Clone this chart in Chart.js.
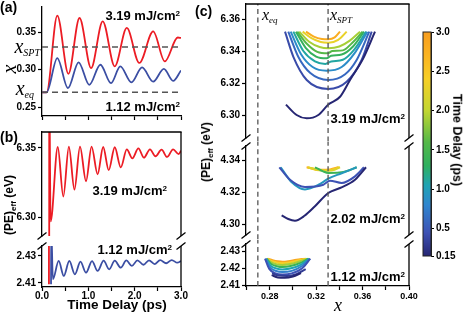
<!DOCTYPE html>
<html><head><meta charset="utf-8">
<script src="https://cdn.jsdelivr.net/npm/chart.js@4.4.1/dist/chart.umd.min.js"></script>
<style>
html,body{margin:0;padding:0;background:#fff;}
#wrap{position:relative;width:467px;height:312px;overflow:hidden;background:#fff;}
#wrap canvas{position:absolute;}
.lbl{position:absolute;white-space:nowrap;line-height:1;font-family:"Liberation Sans",Arial,sans-serif;font-weight:bold;color:#000;}
.sup{font-size:0.62em;position:relative;top:-0.5em;}
</style></head>
<body><div id="wrap"></div>
<script>
// ---------------- DATA ----------------
// reference positions
const xEq = 0.2698;
const xSPT = 0.3303;

// panel (a): x(t)
const aRedT  = [0, 0.10, 0.33, 0.57, 0.81, 1.06, 1.31, 1.57, 1.83, 2.10, 2.40, 2.65, 2.93, 3.0];
const aRedX  = [0.2698, 0.2698, 0.3722, 0.2945, 0.3691, 0.3022, 0.3647, 0.3045, 0.3558, 0.3090, 0.3513, 0.3110, 0.3430, 0.3424];
const aBlueT = [0, 0.10, 0.33, 0.56, 0.79, 1.02, 1.26, 1.49, 1.69, 1.93, 2.16, 2.40, 2.63, 2.83, 3.0];
const aBlueX = [0.2698, 0.2698, 0.3155, 0.2753, 0.3098, 0.2798, 0.3066, 0.2820, 0.3044, 0.2830, 0.3030, 0.2840, 0.3010, 0.2850, 0.2990];

// panel (b): (PE)eff(t)
const bRedT  = [0.150, 0.156, 0.186, 0.34, 0.46, 0.58, 0.70, 0.82, 0.95, 1.07, 1.20, 1.32, 1.44, 1.57, 1.70, 1.83, 1.95, 2.08, 2.20, 2.33, 2.45, 2.58, 2.70, 2.83, 2.95, 3.0];
const bRedPE = [2.409, 6.40, 6.297, 6.3507, 6.315, 6.351, 6.320, 6.351, 6.326, 6.351, 6.331, 6.3507, 6.334, 6.3505, 6.336, 6.349, 6.3425, 6.3497, 6.343, 6.349, 6.344, 6.3488, 6.3435, 6.349, 6.3455, 6.348];
const bBlueT  = [0.195, 0.200, 0.235, 0.36, 0.47, 0.59, 0.71, 0.83, 0.95, 1.08, 1.20, 1.33, 1.45, 1.57, 1.70, 1.82, 1.94, 2.06, 2.19, 2.31, 2.43, 2.55, 2.68, 2.80, 2.92, 3.0];
const bBluePE = [2.409, 2.45, 2.4128, 2.4263, 2.4152, 2.4263, 2.4164, 2.4258, 2.4176, 2.4262, 2.4189, 2.4265, 2.4201, 2.4265, 2.4213, 2.4267, 2.4226, 2.4268, 2.4235, 2.4268, 2.4240, 2.4269, 2.4246, 2.4270, 2.4250, 2.4262];

// panel (c): (PE)eff vs x for several time delays
const c319T = [0.15, 0.4, 0.6, 0.85, 1.1, 1.35, 1.6, 1.9, 2.3, 2.8];
const c319X = [
 [0.2940,0.3032,0.3119,0.3219,0.3305,0.3406,0.3492,0.3606,0.3707],
 [0.2932,0.3004,0.3119,0.3305,0.3463,0.3592,0.3679],
 [0.2960,0.3046,0.3150,0.3305,0.3450,0.3549,0.3658],
 [0.2981,0.3070,0.3170,0.3290,0.3420,0.3530,0.3641],
 [0.3004,0.3090,0.3190,0.3280,0.3330,0.3430,0.3530,0.3630],
 [0.3026,0.3110,0.3200,0.3290,0.3330,0.3420,0.3520,0.3612],
 [0.3038,0.3120,0.3210,0.3300,0.3340,0.3430,0.3510,0.3600],
 [0.3055,0.3140,0.3230,0.3306,0.3400,0.3490,0.3578],
 [0.3084,0.3160,0.3240,0.3306,0.3390,0.3463],
 [0.3113,0.3180,0.3250,0.3306,0.3360,0.3406]
];
const c319PE = [
 [6.3065,6.3000,6.2979,6.3000,6.3065,6.3114,6.3219,6.3354,6.3521],
 [6.3521,6.3364,6.3219,6.3163,6.3208,6.3344,6.3521],
 [6.3521,6.3364,6.3262,6.3219,6.3255,6.3344,6.3521],
 [6.3521,6.3380,6.3300,6.3277,6.3300,6.3385,6.3521],
 [6.3521,6.3400,6.3335,6.3319,6.3335,6.3345,6.3410,6.3521],
 [6.3521,6.3420,6.3365,6.3354,6.3370,6.3378,6.3430,6.3521],
 [6.3521,6.3445,6.3395,6.3386,6.3400,6.3404,6.3450,6.3521],
 [6.3521,6.3458,6.3425,6.3417,6.3428,6.3465,6.3521],
 [6.3521,6.3480,6.3456,6.3452,6.3470,6.3521],
 [6.3521,6.3490,6.3475,6.3473,6.3485,6.3521]
];
const c202T = [0.15, 0.45, 0.95, 1.4, 2.2, 2.5, 2.8];
const c202X = [
 [0.2903,0.2960,0.3018,0.3100,0.3190,0.3305,0.3406,0.3535,0.3630],
 [0.2883,0.2975,0.3104,0.3262,0.3319,0.3420,0.3535,0.3612],
 [0.2895,0.2990,0.3104,0.3230,0.3305,0.3420,0.3549],
 [0.3190,0.3260,0.3305,0.3400,0.3480,0.3549],
 [0.3132,0.3220,0.3305,0.3360,0.3406],
 [0.3125,0.3230,0.3310,0.3400],
 [0.3118,0.3233,0.3320,0.3391]
];
const c202PE = [
 [4.3058,4.3035,4.3025,4.3055,4.3114,4.3196,4.3227,4.3278,4.3355],
 [4.3355,4.3278,4.3233,4.3247,4.3272,4.3258,4.3299,4.3355],
 [4.3355,4.3262,4.3218,4.3250,4.3285,4.3318,4.3355],
 [4.3355,4.3330,4.3320,4.3322,4.3335,4.3355],
 [4.3355,4.3338,4.3334,4.3340,4.3355],
 [4.3355,4.3336,4.3337,4.3355],
 [4.3355,4.3340,4.3342,4.3355]
];
const c112T = [0.15, 0.3, 0.45, 0.75, 1.05, 1.4, 1.9, 2.4, 2.9];
const c112X = [
 [0.2817,0.2870,0.2930,0.3000,0.3070],
 [0.2820,0.2880,0.2950,0.3030,0.3110],
 [0.2760,0.2795,0.2850,0.2910,0.2990,0.3080,0.3150],
 [0.2765,0.2800,0.2855,0.2910,0.2990,0.3075,0.3145],
 [0.2770,0.2805,0.2860,0.2910,0.2985,0.3070,0.3140],
 [0.2772,0.2810,0.2862,0.2910,0.2980,0.3065,0.3135],
 [0.2775,0.2815,0.2865,0.2910,0.2975,0.3055,0.3125],
 [0.2778,0.2820,0.2868,0.2910,0.2970,0.3045,0.3115],
 [0.2785,0.2825,0.2870,0.2910,0.2960,0.3030,0.3100]
];
const c112PE = [
 [2.4160,2.4146,2.4144,2.4152,2.4172],
 [2.4170,2.4157,2.4155,2.4165,2.4195],
 [2.42565,2.4198,2.4170,2.4163,2.4170,2.4200,2.42565],
 [2.42565,2.4208,2.4184,2.4178,2.4185,2.4212,2.42565],
 [2.42565,2.4217,2.4198,2.4193,2.4200,2.4222,2.42565],
 [2.42565,2.4227,2.4212,2.4207,2.4213,2.4232,2.42565],
 [2.42565,2.4235,2.4223,2.4220,2.4225,2.4240,2.42565],
 [2.42565,2.4242,2.4233,2.4230,2.4234,2.4246,2.42565],
 [2.42565,2.4248,2.4241,2.4238,2.4241,2.4250,2.42565]
];

// tick values
const aXTicks = [0, 0.5, 1, 1.5, 2, 2.5, 3];
const aYTicks = [0.25, 0.30, 0.35];
const bYTicksTop = [6.30, 6.35];
const bYTicksBot = [2.41, 2.43];
const cXTicks = [0.26, 0.28, 0.30, 0.32, 0.34, 0.36, 0.38, 0.40];
const cXLabeled = [0.28, 0.32, 0.36, 0.40];
const cYTicksTop = [6.30, 6.32, 6.34, 6.36];
const cYTicksMid = [4.30, 4.32, 4.34];
const cYTicksBot = [2.41, 2.42, 2.43];
const cbTicks = [0.15, 0.5, 1.0, 1.5, 2.0, 2.5, 3.0];

// colour map (time delay -> colour)
const cmapT = [0.15, 0.45, 0.8, 1.05, 1.3, 1.6, 2.0, 2.4, 2.7, 3.0];
const cmapC = ['#262673','#3d52b4','#2f86cf','#1fa3b3','#2fb05f','#55b848','#c2d631','#f6cf26','#fbb421','#f79d1e'];

// ---------------- DRAWING ----------------
const FONT = '"Liberation Sans", Arial, Helvetica, sans-serif';
const RED = '#ec1c24', BLUE = '#3b4ea3', DASH = '#555';
const wrap = document.getElementById('wrap');

function hex(h){ return [1,3,5].map(i => parseInt(h.substr(i,2),16)); }
function cmap(t){
  if (t <= cmapT[0]) return cmapC[0];
  for (let i = 1; i < cmapT.length; i++) {
    if (t <= cmapT[i]) {
      const f = (t - cmapT[i-1]) / (cmapT[i] - cmapT[i-1]);
      const a = hex(cmapC[i-1]), b = hex(cmapC[i]);
      return 'rgb(' + a.map((v,k) => Math.round(v + (b[k]-v)*f)).join(',') + ')';
    }
  }
  return cmapC[cmapC.length-1];
}
function pts(xs, ys){ return xs.map((x,i) => ({x, y: ys[i]})); }

const framePlugin = {
  id: 'frame',
  afterDraw(chart, args, o) {
    const {ctx, chartArea: a} = chart;
    ctx.save();
    ctx.strokeStyle = '#000'; ctx.lineWidth = 1.3;
    const ln = (x1,y1,x2,y2) => { ctx.beginPath(); ctx.moveTo(x1,y1); ctx.lineTo(x2,y2); ctx.stroke(); };
    if (o.top) ln(a.left - 0.6, a.top, a.right + 0.6, a.top);
    if (o.right) ln(a.right, a.top, a.right, a.bottom);
    const sl = (x,y) => ln(x-4.5, y+3.5, x+4.5, y-3.5);
    if (o.breakBottom) { sl(a.left, a.bottom); if (o.right) sl(a.right, a.bottom); }
    if (o.breakTop) { sl(a.left, a.top); if (o.right) sl(a.right, a.top); }
    ctx.restore();
  }
};

const tickGrid = {drawOnChartArea:false, drawTicks:true, tickLength:4, tickColor:'#000', tickWidth:1.2};
const axBorder = {display:true, color:'#000', width:1.3};

function panel(area, o) {
  const [x0,y0,x1,y1] = area;
  const LW = o.lw, BH = o.bh, PT = 8, PR = 12, PB = 8;
  const W = x1-x0+LW+PR, H = y1-y0+PT+BH+PB;
  const cv = document.createElement('canvas');
  cv.width = W; cv.height = H;
  cv.style.left = (x0-LW)+'px'; cv.style.top = (y0-PT)+'px';
  cv.style.width = W+'px'; cv.style.height = H+'px';
  wrap.appendChild(cv);
  return new Chart(cv, {
    type: 'line',
    data: {datasets: o.datasets},
    options: {
      responsive: false, animation: false, devicePixelRatio: 1,
      layout: {padding: {left: 0, top: PT, right: PR, bottom: PB}},
      plugins: {legend: {display: false}, tooltip: {enabled: false}, frame: o.frame || {}},
      elements: {point: {radius: 0}, line: {cubicInterpolationMode: 'monotone', fill: false}},
      scales: {
        x: {type:'linear', position:'bottom', min:o.xmin, max:o.xmax, display:o.xShow,
            afterBuildTicks: s => { s.ticks = o.xTicks.map(v => ({value:v})); },
            afterFit: s => { s.height = BH; },
            ticks: {autoSkip:false, maxRotation:0, minRotation:0, padding:(o.xPad === undefined ? 1 : o.xPad), color:'#000',
                    font:{family:FONT, size:o.xFont || 10, weight:'bold'}, callback:o.xLabel},
            grid: tickGrid, border: axBorder},
        y: {type:'linear', position:'left', min:o.ymin, max:o.ymax,
            afterBuildTicks: s => { s.ticks = o.yTicks.map(v => ({value:v})); },
            afterFit: s => { s.width = LW; },
            ticks: {autoSkip:false, padding:2, color:'#000', font:{family:FONT, size:10, weight:'bold'},
                    callback: v => v.toFixed(2)},
            grid: tickGrid, border: axBorder}
      }
    },
    plugins: [framePlugin]
  });
}

function line(xs, ys, color, w, extra) {
  return Object.assign({data: pts(xs, ys), borderColor: color, borderWidth: w, pointRadius: 0, fill: false}, extra || {});
}

// ----- panel (a)
panel([42,7,181,116], {
  lw: 40, bh: 5, xmin: 0, xmax: 3, ymin: 0.2381, ymax: 0.3838, xShow: true,
  xTicks: aXTicks, xLabel: () => '', yTicks: aYTicks,
  datasets: [
    line([0,3], [xSPT, xSPT], DASH, 1.6, {borderDash:[6,4], cubicInterpolationMode:'default', tension:0}),
    line([0,3], [xEq, xEq], DASH, 1.6, {borderDash:[6,4], cubicInterpolationMode:'default', tension:0}),
    line(aBlueT, aBlueX, BLUE, 1.8),
    line(aRedT, aRedX, RED, 1.8)
  ]
});

// ----- panel (b)
const bLabel = v => (Math.abs(v - Math.round(v)) < 1e-9 ? v.toFixed(1) : '');
panel([42,132,181,236], {
  lw: 40, bh: 0, xmin: 0, xmax: 3, ymin: 6.2865, ymax: 6.3615, xShow: false,
  xTicks: aXTicks, xLabel: bLabel, yTicks: bYTicksTop,
  frame: {top: true, right: true, breakBottom: true},
  datasets: [ line(bBlueT, bBluePE, BLUE, 1.8), line(bRedT, bRedPE, RED, 1.8) ]
});
panel([42,246,181,287], {
  lw: 40, bh: 18, xmin: 0, xmax: 3, ymin: 2.4070, ymax: 2.4374, xShow: true, xPad: -1,
  xTicks: aXTicks, xLabel: bLabel, yTicks: bYTicksBot,
  frame: {right: true, breakTop: true},
  datasets: [ line(bRedT, bRedPE, RED, 1.8), line(bBlueT, bBluePE, BLUE, 1.8) ]
});

// ----- panel (c)
const cLabel = v => (cXLabeled.some(m => Math.abs(m - v) < 1e-9) ? v.toFixed(2) : '');
function cSets(T, X, P, ymin, ymax, clipTop, clipBot) {
  const dashOpts = {borderDash:[5,3.5], cubicInterpolationMode:'default', tension:0,
                    clip:{left:0, right:0, top:clipTop, bottom:clipBot}};
  const sets = [
    line([xEq, xEq], [ymin - 0.05, ymax + 0.05], DASH, 1.3, dashOpts),
    line([xSPT, xSPT], [ymin - 0.05, ymax + 0.05], DASH, 1.3, dashOpts)
  ];
  T.forEach((t, i) => sets.push(line(X[i], P[i], cmap(t), 2)));
  return sets;
}
panel([246,4,409,138], {
  lw: 40, bh: 0, xmin: 0.2596, xmax: 0.40, ymin: 6.28563, ymax: 6.36938, xShow: false,
  xTicks: cXTicks, xLabel: cLabel, yTicks: cYTicksTop,
  frame: {top: true, right: true, breakBottom: true},
  datasets: cSets(c319T, c319X, c319PE, 6.28563, 6.36938, 0, 4)
});
panel([246,146,409,235], {
  lw: 40, bh: 0, xmin: 0.2596, xmax: 0.40, ymin: 4.29362, ymax: 4.34866, xShow: false,
  xTicks: cXTicks, xLabel: cLabel, yTicks: cYTicksMid,
  frame: {right: true, breakTop: true, breakBottom: true},
  datasets: cSets(c202T, c202X, c202PE, 4.29362, 4.34866, 4, 5)
});
panel([246,244,409,286], {
  lw: 40, bh: 20, xmin: 0.2596, xmax: 0.40, ymin: 2.40959, ymax: 2.43429, xShow: true,
  xTicks: cXTicks, xLabel: cLabel, yTicks: cYTicksBot, xFont: 9,
  frame: {right: true, breakTop: true},
  datasets: cSets(c112T, c112X, c112PE, 2.40959, 2.43429, 4, 0)
});

// ----- colour bar
(function(){
  const PL = 4, RW = 40, PT = 8, PB = 8;
  const x0 = 423, y0 = 32, x1 = 431, y1 = 256;
  const W = x1-x0+PL+RW, H = y1-y0+PT+PB;
  const cv = document.createElement('canvas');
  cv.width = W; cv.height = H;
  cv.style.left = (x0-PL)+'px'; cv.style.top = (y0-PT)+'px';
  cv.style.width = W+'px'; cv.style.height = H+'px';
  wrap.appendChild(cv);
  const barPlugin = {
    id: 'cbar',
    beforeDatasetsDraw(chart) {
      const {ctx, chartArea: a, scales: {y}} = chart;
      const p0 = y.getPixelForValue(cmapT[0]), p1 = y.getPixelForValue(cmapT[cmapT.length-1]);
      const g = ctx.createLinearGradient(0, p0, 0, p1);
      const span = cmapT[cmapT.length-1] - cmapT[0];
      cmapT.forEach((t,i) => g.addColorStop((t - cmapT[0]) / span, cmapC[i]));
      ctx.save();
      ctx.fillStyle = g;
      ctx.fillRect(a.left, a.top, a.right - a.left, a.bottom - a.top);
      ctx.strokeStyle = '#222'; ctx.lineWidth = 1;
      ctx.strokeRect(a.left, a.top, a.right - a.left, a.bottom - a.top);
      ctx.restore();
    }
  };
  new Chart(cv, {
    type: 'line',
    data: {datasets: []},
    options: {
      responsive: false, animation: false, devicePixelRatio: 1,
      layout: {padding: {left: PL, top: PT, right: 0, bottom: PB}},
      plugins: {legend: {display: false}, tooltip: {enabled: false}},
      scales: {
        x: {type:'linear', display:false, min:0, max:1},
        y: {type:'linear', position:'right', min:0.15, max:3.0,
            afterBuildTicks: s => { s.ticks = cbTicks.map(v => ({value:v})); },
            afterFit: s => { s.width = RW; },
            ticks: {autoSkip:false, padding:2, color:'#000', font:{family:FONT, size:10, weight:'bold'},
                    callback: v => (Math.abs(v - 0.15) < 1e-9 ? '0.15' : v.toFixed(1))},
            grid: {drawOnChartArea:false, drawTicks:true, tickLength:3, tickColor:'#000', tickWidth:1},
            border: {display:true, color:'#222', width:1}}
      }
    },
    plugins: [barPlugin]
  });
})();

// ----- text labels
function lab(html, x, y, o) {
  o = o || {};
  const d = document.createElement('div');
  d.className = 'lbl';
  d.innerHTML = html;
  const size = o.size || 13;
  d.style.fontSize = size + 'px';
  if (o.serif) {
    d.style.fontFamily = '"Liberation Serif","Times New Roman",serif';
    d.style.fontStyle = 'italic'; d.style.fontWeight = 'normal';
  }
  d.style.left = x + 'px';
  if (o.rot) {
    d.style.top = y + 'px';
    d.style.transform = 'translate(-50%,-50%) rotate(' + o.rot + 'deg)';
  } else {
    const k = o.serif ? 0.8375 : 0.8465;
    d.style.top = (y - size * k) + 'px';
    const tx = o.align === 'right' ? '-100%' : (o.align === 'center' ? '-50%' : '0');
    d.style.transform = 'translateX(' + tx + ')';
  }
  wrap.appendChild(d);
}
const mJ = s => s + ' mJ/cm<span class="sup">2</span>';
const sub = (s, px, dy) => '<span style="font-size:' + px + 'px;position:relative;top:' + dy + 'px">' + s + '</span>';

lab('(a)', 0, 12, {size: 14});
lab('(b)', 0, 142, {size: 14});
lab('(c)', 195, 15.5, {size: 14});

lab(mJ('3.19'), 180, 19.7, {align: 'right'});
lab(mJ('1.12'), 180, 111.5, {align: 'right'});
lab(mJ('3.19'), 167, 195, {align: 'right'});
lab(mJ('1.12'), 172, 254.5, {align: 'right'});
lab(mJ('3.19'), 405, 123, {align: 'right'});
lab(mJ('2.02'), 405, 223, {align: 'right'});
lab(mJ('1.12'), 405, 281, {align: 'right'});

lab('x' + sub('SPT', 10, 3), 40, 52.5, {serif: true, size: 20, align: 'right'});
lab('x' + sub('eq', 10, 3), 34, 95, {serif: true, size: 20, align: 'right'});
lab('x' + sub('eq', 9, 3), 262, 20.7, {serif: true, size: 16});
lab('x' + sub('SPT', 9, 3), 330, 20.7, {serif: true, size: 16});

lab('x', 9, 69, {serif: true, size: 20, rot: -90});
lab('(PE)' + sub('eff', 8, 3) + ' (eV)', 9, 205, {size: 12, rot: -90});
lab('(PE)' + sub('eff', 8, 3) + ' (eV)', 206, 152, {size: 12, rot: -90});
lab('Time Delay (ps)', 117, 309.5, {size: 13.5, align: 'center'});
lab('x', 338, 311, {serif: true, size: 18, align: 'center'});
lab('Time Delay (ps)', 457, 140, {size: 12.5, rot: 90});
</script>
</body></html>
